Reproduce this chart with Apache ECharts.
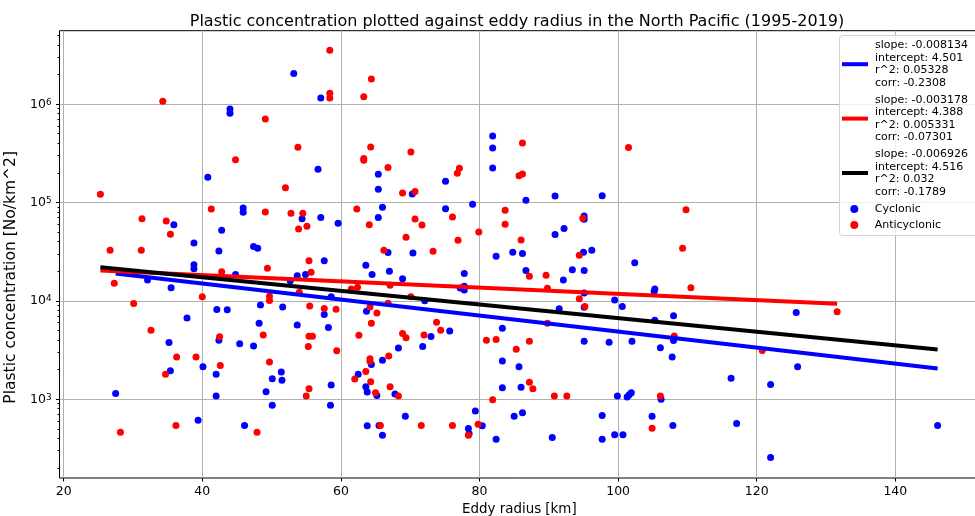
<!DOCTYPE html>
<html>
<head>
<meta charset="utf-8">
<title>Plastic concentration vs eddy radius</title>
<script src="https://cdn.jsdelivr.net/npm/echarts@6/dist/echarts.min.js"></script>
<style>
  html, body { margin: 0; padding: 0; background: #fff; }
  #chart { width: 975px; height: 516px; }
</style>
</head>
<body>
<div id="chart"></div>
<script>
// 数据：气旋涡（蓝）
var cycRadius = [44.0, 44.0, 40.8, 45.9, 45.9, 35.9, 42.8, 38.8, 42.4, 47.4, 48.0,
  53.2, 57.1, 56.7, 65.4, 65.4, 70.3, 75.1, 81.9, 81.9, 81.9,
  54.4, 57.1, 59.6, 66.0, 65.4, 75.1, 79.0, 66.8, 70.4, 57.6, 82.4, 84.8,
  86.7, 90.9, 97.7, 95.1, 95.1, 92.2, 90.9, 86.2, 95.0, 96.2,
  38.8, 38.8, 44.8, 32.1, 35.5, 42.1, 43.6, 48.4, 51.6, 37.8,
  48.2, 42.4, 35.2, 45.4, 47.4, 40.1, 35.4, 42.0, 51.4, 50.1,
  51.5, 27.5, 42.0, 49.2, 50.1, 39.4, 46.1,
  63.6, 67.0, 68.9, 53.7, 54.9, 64.5, 52.7, 77.8, 77.8, 77.8,
  77.2, 58.6, 72.1, 57.6, 63.7, 53.7, 58.2, 75.7, 73.0, 68.3,
  71.8, 66.0, 64.4, 62.5, 63.6, 63.8, 65.2, 67.8, 58.6, 58.5,
  69.3, 63.8, 65.5, 66.0, 78.4, 78.5, 80.4, 79.4, 82.4, 83.3,
  83.3, 83.3, 85.7, 85.0,
  86.7, 92.1, 93.4, 95.1, 102.4, 95.1, 95.1, 91.5, 99.5, 100.6,
  105.2, 105.3, 105.3, 108.0, 108.0, 106.1, 107.8, 95.1, 98.7, 102.0,
  86.0, 99.9, 101.3, 101.9, 101.6, 106.2, 86.2, 97.7, 104.9, 107.9,
  90.5, 97.7, 99.5, 100.7, 116.3, 117.1,
  125.7, 125.9, 122.0, 146.1, 122.0];
var cycConc = [891000, 805000, 180000, 87900, 79400, 59400, 52100, 38700, 32100, 35600, 34300,
  2040000, 1150000, 217000, 194000, 136000, 122000, 164000, 474000, 358000, 224000,
  68400, 70100, 61500, 89300, 70100, 86500, 95900, 30900, 30700, 25600, 28400, 31200,
  105000, 116000, 117000, 72900, 67500, 54200, 47100, 30200, 31200, 32700,
  23300, 21200, 18500, 16300, 13600, 8150, 8090, 9080, 8670, 6700,
  5920, 3980, 3760, 3670, 3480, 2140, 1950, 1790, 1890, 1610,
  1560, 1140, 1080, 1190, 869, 612, 540,
  23000, 20000, 16800, 18000, 18500, 18500, 16000, 18900, 14100, 12900,
  13500, 11000, 10000, 7240, 7830, 5690, 5350, 4940, 4330, 3320,
  3430, 2490, 2250, 1790, 1340, 1180, 1090, 1130, 1390, 869,
  671, 536, 540, 431, 504, 444, 536, 760, 392, 5270,
  2450, 1310, 2140, 671,
  20300, 16300, 20700, 20300, 24300, 12000, 8610, 8280, 10200, 8730,
  12500, 13200, 6350, 7030, 3940, 3340, 2690, 3880, 3790, 3880,
  1320, 1080, 1050, 1160, 1110, 1000, 726, 682, 671, 540,
  407, 392, 434, 434, 1630, 565,
  7590, 2140, 1410, 540, 255];

// 数据：反气旋涡（红）
var antiRadius = [34.3, 49.1, 44.8, 52.0, 25.3, 41.3, 49.1, 31.3, 34.8, 35.4, 26.7, 31.2,
  58.4, 64.4, 58.4, 58.4, 63.3, 53.8, 64.3, 63.3, 63.3, 66.8,
  70.1, 68.9, 70.7, 76.8, 77.1, 52.8, 54.5, 53.9, 55.1, 62.3,
  64.1, 70.7, 71.7, 69.4, 76.1, 76.9, 79.9, 83.7, 83.7, 66.2,
  73.3, 55.4,
  86.2, 85.7, 86.2, 101.5, 109.8, 94.9, 86.0, 94.4, 109.3,
  42.8, 49.4, 27.3, 40.0, 49.7, 49.7, 30.1, 32.6, 48.8, 42.5,
  36.3, 39.1, 49.7, 42.6, 34.7, 28.2, 36.2, 47.9,
  55.7, 67.1, 54.0, 61.5, 62.4, 70.1, 66.8, 55.5, 57.6, 59.3,
  64.2, 65.2, 64.4, 73.8, 74.4, 62.6, 68.9, 69.4, 72.0, 55.4,
  55.9, 55.3, 59.4, 66.9, 64.2, 64.2, 63.6, 62.0, 64.3, 65.0,
  67.1, 68.3, 55.4, 55.0, 65.7, 71.6, 76.1, 78.4, 79.8, 81.9,
  81.0, 82.4, 85.3,
  87.2, 89.6, 89.8, 94.4, 95.2, 110.5, 89.8, 108.1, 87.2, 87.2,
  87.7, 90.8, 92.6, 106.1, 104.9,
  131.6, 120.8];
var antiConc = [1070000, 706000, 272000, 141000, 121000, 85900, 80000, 68400, 64900, 47500, 32700, 32700,
  3520000, 1800000, 1290000, 1150000, 1190000, 364000, 366000, 279000, 269000, 226000,
  326000, 125000, 129000, 198000, 223000, 77600, 77600, 53800, 57300, 85900,
  59400, 67900, 59000, 44300, 71300, 41300, 50100, 83400, 60000, 32700,
  31900, 25600,
  403000, 187000, 195000, 361000, 84500, 69000, 41600, 29000, 34300,
  19700, 21400, 15100, 11000, 11100, 10100, 9380, 5020, 4500, 4300,
  2690, 2690, 2390, 2200, 1790, 462, 540, 462,
  19500, 14400, 12200, 13200, 13700, 11000, 9460, 8870, 8340, 8220,
  8670, 7530, 5920, 6070, 5020, 4470, 4650, 4200, 4500, 4370,
  4370, 3430, 3100, 2740, 2570, 2430, 1910, 1600, 1500, 1160,
  1340, 1080, 1280, 1080, 540, 540, 540, 431, 557, 984,
  3980, 4040, 3220,
  17800, 18200, 13400, 10500, 8730, 13600, 5920, 4400, 3880, 1490,
  1280, 1080, 1080, 1080, 507,
  7760, 3120];

// 回归结果（log10 浓度 = 截距 + 斜率 * 半径）：气旋、反气旋、全部
var fitSlope = [-0.008134, -0.003178, -0.006926];
var fitIntercept = [4.501, 4.388, 4.516];
var fitR2 = [0.05328, 0.005331, 0.032];
var fitCorr = [-0.2308, -0.07301, -0.1789];

var xTicks = [20, 40, 60, 80, 100, 120, 140];
var yTicks = [1e3, 1e4, 1e5, 1e6];

var FONT = 'DejaVu Sans';
var yMin = 158, yMax = 5.57e6;

function pairs(xs, ys) {
  return xs.map(function (x, i) { return [x, ys[i]]; });
}

function fitLine(k, xs) {
  var x0 = Math.min.apply(null, xs), x1 = Math.max.apply(null, xs);
  return [x0, x1].map(function (x) {
    return [x, Math.pow(10, fitIntercept[k] + fitSlope[k] * x)];
  });
}

function fitName(k) {
  return 'slope: ' + fitSlope[k] + '\nintercept: ' + fitIntercept[k] +
    '\nr^2: ' + fitR2[k] + '\ncorr: ' + fitCorr[k];
}

// 对数轴的次刻度 2..9 x 10^n
var yMinor = [];
for (var e = 2; e <= 6; e++) {
  for (var m = 2; m <= 9; m++) {
    var v = m * Math.pow(10, e);
    if (v > yMin && v < yMax) yMinor.push(v);
  }
}

var allRadius = cycRadius.concat(antiRadius);
var lineColors = ['#0000ff', '#ff0000', '#000000'];

var chart = echarts.init(document.getElementById('chart'));

var option = {
  animation: false,
  textStyle: { fontFamily: FONT },
  title: {
    text: 'Plastic concentration plotted against eddy radius in the North Pacific (1995-2019)',
    left: 512,
    textAlign: 'center',
    top: 9,
    textStyle: { fontFamily: FONT, fontSize: 16, fontWeight: 'normal', color: '#000' }
  },
  grid: {
    left: 59.5, top: 30.7, right: -4.2, bottom: 38,
    containLabel: false,
    outerBoundsMode: 'none',
    show: true, borderColor: '#000', borderWidth: 1, backgroundColor: 'transparent'
  },
  xAxis: {
    type: 'value',
    min: 19.4,
    max: 152.1,
    name: 'Eddy radius [km]',
    nameLocation: 'middle',
    nameGap: 23,
    nameTextStyle: { fontFamily: FONT, fontSize: 13.4, color: '#000' },
    axisLine: { show: false },
    axisTick: { show: true, length: 3.5, customValues: xTicks, lineStyle: { color: '#000', width: 1 } },
    axisLabel: { customValues: xTicks, fontFamily: FONT, fontSize: 12.5, color: '#000', margin: 7 },
    splitLine: { show: true, lineStyle: { color: '#b0b0b0', width: 1 } }
  },
  yAxis: [{
    type: 'log',
    logBase: 10,
    min: yMin,
    max: yMax,
    name: 'Plastic concentration [No/km^2]',
    nameLocation: 'middle',
    nameGap: 29,
    nameTextStyle: { fontFamily: FONT, fontSize: 15.5, color: '#000', padding: [0, 46, 0, 0] },
    axisLine: { show: false },
    axisTick: { show: true, length: 3.5, customValues: yTicks, lineStyle: { color: '#000', width: 1 } },
    axisLabel: {
      customValues: yTicks,
      margin: 8,
      color: '#000',
      formatter: function (val) {
        return '{b|10}{s|' + Math.round(Math.log10(val)) + '}';
      },
      rich: {
        b: { fontFamily: FONT, fontSize: 12.5, lineHeight: 12.5, verticalAlign: 'top', color: '#000' },
        s: { fontFamily: FONT, fontSize: 8.8, lineHeight: 12.5, verticalAlign: 'top', color: '#000' }
      }
    },
    splitLine: { show: true, lineStyle: { color: '#b0b0b0', width: 1 } }
  }, {
    type: 'log',
    logBase: 10,
    min: yMin,
    max: yMax,
    position: 'left',
    axisLine: { show: false },
    axisTick: { show: true, length: 2, customValues: yMinor, lineStyle: { color: '#000', width: 1 } },
    axisLabel: { show: false },
    splitLine: { show: false }
  }],
  legend: [{
    orient: 'vertical',
    left: 842,
    top: 39,
    padding: 0,
    itemGap: 4,
    itemWidth: 26,
    itemHeight: 4,
    selectedMode: false,
    z: 20,
    textStyle: { fontFamily: FONT, fontSize: 11, lineHeight: 12.6, color: '#000', padding: [0, 0, 0, 2] },
    data: [0, 1, 2].map(function (k) { return { name: fitName(k), icon: 'rect' }; })
  }, {
    orient: 'vertical',
    left: 850.3,
    top: 202.7,
    padding: 0,
    itemGap: 3.4,
    itemWidth: 8,
    itemHeight: 8,
    selectedMode: false,
    z: 20,
    textStyle: { fontFamily: FONT, fontSize: 11, lineHeight: 12.6, color: '#000', padding: [0, 0, 0, 11.4] },
    data: [{ name: 'Cyclonic', icon: 'circle' }, { name: 'Anticyclonic', icon: 'circle' }]
  }],
  graphic: [{
    type: 'rect',
    z: 15,
    shape: { x: 839.5, y: 35.5, width: 140, height: 200, r: 3 },
    style: { fill: 'rgba(255,255,255,0.8)', stroke: '#d3d3d3', lineWidth: 1 }
  }],
  series: [{
    name: 'Cyclonic',
    type: 'scatter',
    yAxisIndex: 0,
    symbolSize: 7,
    itemStyle: { color: '#0000ff', opacity: 1 },
    z: 2,
    data: pairs(cycRadius, cycConc)
  }, {
    name: 'Anticyclonic',
    type: 'scatter',
    yAxisIndex: 0,
    symbolSize: 7,
    itemStyle: { color: '#ff0000', opacity: 1 },
    z: 3,
    data: pairs(antiRadius, antiConc)
  }].concat([cycRadius, antiRadius, allRadius].map(function (xs, k) {
    return {
      name: fitName(k),
      type: 'line',
      yAxisIndex: 0,
      symbol: 'none',
      silent: true,
      z: 4 + k,
      itemStyle: { color: lineColors[k] },
      lineStyle: { color: lineColors[k], width: 4 },
      data: fitLine(k, xs)
    };
  }))
};

chart.setOption(option);
</script>
</body>
</html>
